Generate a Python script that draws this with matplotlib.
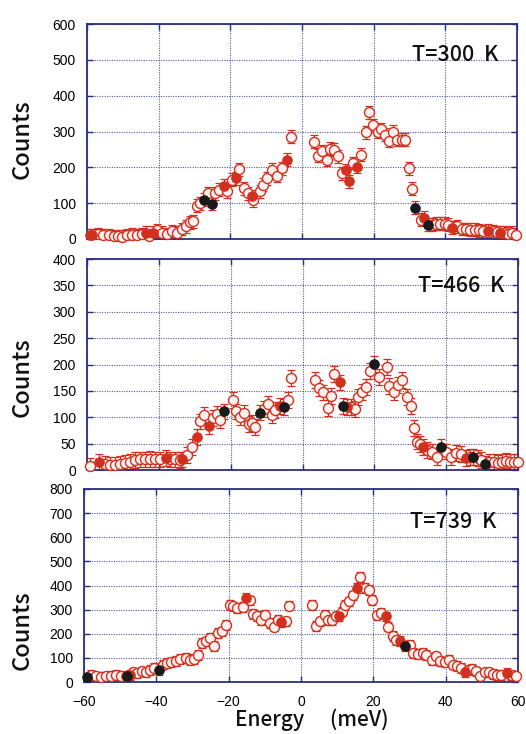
import matplotlib
matplotlib.use("Agg")
import matplotlib.pyplot as plt
import numpy as np

plt.rcParams['font.family'] = ['Liberation Sans', 'DejaVu Sans']

# ---- T = 300 K ----
e300_open = [-56.8, -55.4, -54.0, -52.6, -51.3, -50.3, -48.9, -47.5, -46.1, -44.7, -42.6, -40.4,
             -39.2, -37.8, -36.4, -35.0, -33.6, -32.4, -31.3, -30.3, -29.4, -28.5, -26.1, -24.3,
             -23.1, -21.0, -19.6, -17.5, -16.2, -15.0, -13.6, -11.7, -10.8, -9.9, -8.5, -7.1,
             -5.7, -3.2, 3.4, 4.6, 5.6, 6.9, 7.8, 8.8, 10.1, 11.3, 14.3, 16.5, 17.9, 18.8, 19.9,
             21.1, 22.1, 23.2, 24.2, 25.5, 26.6, 27.8, 28.8, 29.8, 30.8, 33.1, 36.2, 37.4, 38.5,
             39.9, 40.8, 43.2, 44.6, 45.8, 46.9, 48.3, 49.5, 50.6, 53.2, 54.3, 56.4, 57.6, 58.7, 59.8]
c300_open = [14, 10, 10, 8, 8, 6, 10, 12, 10, 14, 7, 24,
             18, 14, 21, 18, 28, 35, 47, 49, 93, 100, 128, 128,
             138, 133, 166, 195, 142, 128, 108, 133, 151, 170, 193, 177,
             198, 286, 271, 233, 245, 221, 252, 249, 231, 184, 212, 235, 298, 354, 317,
             300, 307, 291, 274, 300, 277, 277, 277, 198, 140, 54, 40, 43, 43,
             43, 40, 35, 28, 28, 26, 26, 24, 21, 21, 19, 17, 15, 17, 12]
e300_red = [-59.3, -58.5, -43.5, -41.5, -21.8, -18.4, -14.0, -4.1, 12.2, 13.2, 15.4, 34.1, 41.9, 52.0, 55.3]
c300_red = [10, 10, 17, 17, 149, 170, 119, 221, 192, 161, 201, 59, 31, 23, 17]
e300_blk = [-27.3, -25.2, 31.6, 35.1]
c300_blk = [110, 99, 87, 40]

# ---- T = 466 K ----
e466_open = [-59.2, -55.0, -53.6, -52.2, -50.8, -49.4, -48.0, -46.6, -45.2, -43.8, -42.4, -41.0,
             -39.6, -36.8, -35.4, -34.0, -32.2, -30.8, -28.5, -27.3, -24.9, -23.8, -22.9, -19.4,
             -18.5, -17.5, -16.4, -15.0, -14.1, -13.1, -10.6, -9.7, -8.5, -7.6, -4.0, -3.2,
             3.6, 4.6, 5.6, 7.1, 7.8, 8.8, 13.4, 14.5, 15.4, 16.6, 17.8, 18.9, 21.3, 23.4,
             24.1, 25.5, 26.6, 27.8, 29.0, 30.1, 31.0, 31.9, 32.8, 34.7, 36.1, 37.4, 39.9, 41.3,
             42.7, 44.1, 46.7, 48.8, 49.7, 52.0, 53.2, 54.3, 55.5, 56.7, 57.9, 59.0, 60.0]
c466_open = [8, 11, 9, 9, 11, 13, 16, 19, 20, 20, 21, 20,
             20, 20, 20, 19, 28, 44, 92, 104, 98, 106, 95, 133,
             111, 101, 108, 87, 89, 82, 115, 125, 104, 114, 132, 174,
             171, 155, 147, 118, 141, 182, 120, 115, 139, 148, 158, 187, 177, 196,
             159, 147, 161, 171, 139, 122, 79, 54, 49, 38, 35, 25, 35, 25,
             32, 30, 25, 22, 19, 16, 15, 13, 16, 18, 16, 15, 16]
e466_red = [-56.6, -38.0, -33.6, -29.4, -26.1, -6.4, 10.4, 12.3, 33.6, 45.5]
c466_red = [15, 22, 20, 63, 84, 122, 166, 120, 44, 22]
e466_blk = [-21.8, -11.7, -5.2, 11.3, 20.0, 38.7, 47.6, 50.8]
c466_blk = [111, 109, 119, 122, 201, 44, 24, 11]

# ---- T = 739 K ----
e739_open = [-58.0, -56.6, -55.2, -53.8, -52.4, -51.1, -49.7, -46.5, -45.3, -44.1, -42.9, -41.8,
             -40.7, -38.2, -37.1, -35.9, -34.5, -33.4, -31.9, -30.8, -29.7, -28.5, -27.3, -26.2,
             -25.1, -24.1, -22.9, -21.8, -20.8, -19.7, -18.8, -17.7, -16.0, -14.0, -13.3, -12.2,
             -11.0, -10.0, -8.7, -7.6, -6.4, -4.2, -3.3, 3.1, 4.2, 5.3, 6.5, 7.4, 8.6, 9.7,
             11.4, 12.2, 13.4, 14.5, 16.4, 17.6, 18.8, 19.7, 21.0, 22.2, 24.1, 25.3, 26.4, 30.1,
             31.0, 32.4, 33.6, 34.7, 36.1, 37.3, 38.4, 39.7, 40.9, 42.0, 43.1, 44.3, 46.2, 47.4,
             48.5, 49.6, 50.8, 52.0, 53.1, 54.2, 55.4, 58.1, 59.4]
c739_open = [30, 23, 21, 23, 26, 30, 26, 40, 37, 44, 40, 51,
             58, 72, 79, 81, 86, 95, 99, 92, 95, 113, 161, 168,
             182, 148, 203, 210, 237, 320, 313, 306, 310, 338, 283, 274,
             258, 279, 244, 230, 258, 251, 317, 320, 233, 251, 279, 255, 258, 272,
             292, 320, 334, 359, 434, 389, 382, 341, 276, 285, 230, 192, 175, 154,
             120, 117, 120, 113, 92, 106, 88, 81, 90, 72, 65, 58, 51, 54,
             44, 26, 40, 40, 34, 30, 30, 30, 26]
e739_red = [-48.3, -47.2, -15.1, -5.4, 10.5, 15.4, 23.4, 27.5, 45.3, 56.9]
c739_red = [23, 30, 348, 247, 274, 389, 272, 171, 40, 37]
e739_blk = [-59.2, -48.0, -39.4, 28.7]
c739_blk = [19, 26, 51, 148]

# rough error bar size per panel (counts)
err = [18, 15, 20]
ymax = [600, 400, 800]
ystep = [100, 50, 100]
labels = ['T=300  K', 'T=466  K', 'T=739  K']

panels = [
    (e300_open, c300_open, e300_red, c300_red, e300_blk, c300_blk),
    (e466_open, c466_open, e466_red, c466_red, e466_blk, c466_blk),
    (e739_open, c739_open, e739_red, c739_red, e739_blk, c739_blk),
]

W, H = 526, 734
# axes boxes in pixels: left, right, top, bottom
boxes = [(87, 517, 24, 239), (87, 518, 259, 470), (84, 518, 489, 682)]
txtpos = [(0.755, 0.828), (0.768, 0.845), (0.752, 0.80)]
countsy = [139, 377, 630]

navy = '#2b2f82'
red = '#d2301f'
cjk = ['Noto Sans CJK JP', 'DejaVu Sans']

fig = plt.figure(figsize=(W / 100, H / 100), dpi=100)

for i, (eo, co, er, cr, eb, cb) in enumerate(panels):
    l, r, t, b = boxes[i]
    ax = fig.add_axes([l / W, 1 - b / H, (r - l) / W, (b - t) / H])

    alle = eo + er + eb
    allc = co + cr + cb
    ax.errorbar(alle, allc, yerr=err[i], fmt='none', ecolor=red, elinewidth=0.9,
                capsize=3, capthick=0.9, zorder=2)
    ax.plot(eo, co, 'o', ms=7.2, mfc='#fff1ef', mec=red, mew=1.0, zorder=3, clip_on=False)
    ax.plot(er, cr, 'o', ms=6.8, mfc=red, mec=red, mew=0.8, zorder=4, clip_on=False)
    ax.plot(eb, cb, 'o', ms=6.8, mfc='#1a1a1a', mec='#1a1a1a', mew=0.8, zorder=5, clip_on=False)

    ax.set_xlim(-60, 60)
    ax.set_ylim(0, ymax[i])
    ax.set_xticks(np.arange(-60, 61, 20))
    ax.set_yticks(np.arange(0, ymax[i] + 1, ystep[i]))
    ax.grid(True, color=navy, linestyle=(0, (1, 1.2)), linewidth=0.8, alpha=0.8)
    ax.set_axisbelow(True)
    for sp in ax.spines.values():
        sp.set_color(navy)
        sp.set_linewidth(1.3)
    ax.tick_params(direction='in', length=4, color=navy, width=1.0,
                   left=True, right=True, top=True, bottom=True, labelsize=10, pad=8)
    if i < 2:
        ax.tick_params(labelbottom=False)
    else:
        ax.tick_params(axis='x', pad=9)

    ax.text(txtpos[i][0], txtpos[i][1], labels[i], transform=ax.transAxes,
            family=cjk, fontsize=15.5, weight='medium', ha='left', va='baseline',
            color='#111111')
    fig.text(22 / W, 1 - countsy[i] / H, 'Counts', rotation=90, family=cjk,
             fontsize=17, weight='medium', ha='center', va='center', color='#111111')

fig.text(235 / W, 1 - 726 / H, 'Energy\u3000 (meV)', family=cjk, fontsize=15,
         weight='medium', ha='left', va='baseline', color='#111111')

fig.savefig('out.png', dpi=100)
